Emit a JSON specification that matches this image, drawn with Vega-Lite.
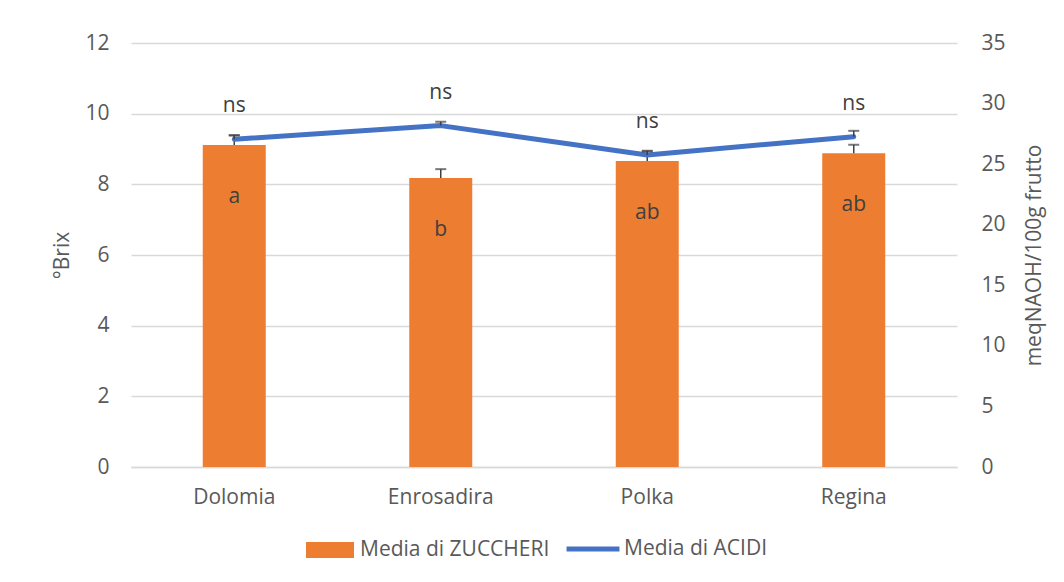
{
  "$schema": "https://vega.github.io/schema/vega-lite/v6.json",
  "width": 826,
  "height": 424,
  "autosize": {"type": "none"},
  "padding": {"left": 131, "top": 43, "right": 107, "bottom": 115},
  "background": "white",
  "config": {
    "font": "Open Sans",
    "view": {"stroke": null},
    "axis": {
      "labelFont": "Open Sans",
      "titleFont": "Open Sans",
      "labelFontSize": 21,
      "titleFontSize": 21,
      "labelColor": "#595959",
      "titleColor": "#595959",
      "titleFontWeight": "normal",
      "ticks": false,
      "domain": false
    },
    "legend": {
      "labelFont": "Open Sans",
      "labelFontSize": 21,
      "labelColor": "#595959",
      "labelLimit": 400
    }
  },
  "data": {
    "values": [
      {"varieta": "Dolomia", "zuccheri": 9.11, "zuccheri_hi": 9.38, "acidi": 27.06, "acidi_hi": 27.4, "lettera": "a", "sig": "ns"},
      {"varieta": "Enrosadira", "zuccheri": 8.18, "zuccheri_hi": 8.43, "acidi": 28.18, "acidi_hi": 28.5, "lettera": "b", "sig": "ns"},
      {"varieta": "Polka", "zuccheri": 8.66, "zuccheri_hi": 8.95, "acidi": 25.76, "acidi_hi": 26.05, "lettera": "ab", "sig": "ns"},
      {"varieta": "Regina", "zuccheri": 8.88, "zuccheri_hi": 9.12, "acidi": 27.27, "acidi_hi": 27.75, "lettera": "ab", "sig": "ns"}
    ]
  },
  "encoding": {
    "x": {
      "field": "varieta",
      "type": "nominal",
      "sort": null,
      "scale": {"paddingInner": 0, "paddingOuter": 0},
      "axis": {
        "title": null,
        "labelAngle": 0,
        "labelPadding": 19,
        "domain": true,
        "domainColor": "#d9d9d9",
        "domainWidth": 1.5
      }
    }
  },
  "layer": [
    {
      "layer": [
        {
          "mark": {"type": "bar", "size": 63},
          "encoding": {
            "y": {
              "field": "zuccheri",
              "type": "quantitative",
              "scale": {"domain": [0, 12], "nice": false},
              "axis": {
                "title": "°Brix",
                "values": [0, 2, 4, 6, 8, 10, 12],
                "grid": true,
                "gridColor": "#d9d9d9",
                "gridWidth": 1.5,
                "labelPadding": 22,
                "titlePadding": 12
              }
            },
            "fill": {
              "datum": "Media di ZUCCHERI",
              "type": "nominal",
              "scale": {"range": ["#ED7D31"]},
              "legend": {
                "title": null,
                "orient": "none",
                "legendX": 183,
                "legendY": 491,
                "symbolType": "M-1.5,-0.5H1.5V0.5H-1.5Z",
                "symbolSize": 1024,
                "symbolStrokeWidth": 0,
                "labelOffset": 14
              }
            }
          }
        },
        {
          "mark": {"type": "rule", "color": "#404040", "strokeWidth": 1.5},
          "encoding": {
            "y": {"field": "zuccheri", "type": "quantitative"},
            "y2": {"field": "zuccheri_hi"}
          }
        },
        {
          "mark": {"type": "tick", "color": "#404040", "thickness": 2, "size": 11},
          "encoding": {
            "y": {"field": "zuccheri_hi", "type": "quantitative"}
          }
        },
        {
          "mark": {"type": "text", "fontSize": 21, "color": "#404040", "baseline": "middle", "dy": 52},
          "encoding": {
            "y": {"field": "zuccheri", "type": "quantitative"},
            "text": {"field": "lettera"}
          }
        }
      ]
    },
    {
      "layer": [
        {
          "mark": {"type": "line", "color": "#4472C4", "strokeWidth": 5, "strokeCap": "round", "strokeJoin": "round"},
          "encoding": {
            "y": {
              "field": "acidi",
              "type": "quantitative",
              "scale": {"domain": [0, 35], "nice": false},
              "axis": {
                "title": "meqNAOH/100g frutto",
                "orient": "right",
                "values": [0, 5, 10, 15, 20, 25, 30, 35],
                "grid": false,
                "labelPadding": 24,
                "titlePadding": 39,
                "titleAngle": 270
              }
            },
            "stroke": {
              "datum": "Media di ACIDI",
              "type": "nominal",
              "scale": {"range": ["#4472C4"]},
              "legend": {
                "title": null,
                "orient": "none",
                "legendX": 433,
                "legendY": 477,
                "symbolType": "stroke",
                "symbolSize": 2800,
                "symbolStrokeWidth": 5,
                "labelOffset": 2
              }
            }
          }
        },
        {
          "mark": {"type": "rule", "color": "#404040", "strokeWidth": 1.5},
          "encoding": {
            "y": {"field": "acidi", "type": "quantitative"},
            "y2": {"field": "acidi_hi"}
          }
        },
        {
          "mark": {"type": "tick", "color": "#404040", "thickness": 2, "size": 11},
          "encoding": {
            "y": {"field": "acidi_hi", "type": "quantitative"}
          }
        },
        {
          "mark": {"type": "text", "fontSize": 21, "color": "#404040", "baseline": "middle", "dy": -33},
          "encoding": {
            "y": {"field": "acidi", "type": "quantitative"},
            "text": {"field": "sig"}
          }
        }
      ],
      "resolve": {"scale": {"y": "shared"}}
    }
  ],
  "resolve": {"scale": {"y": "independent", "fill": "independent", "stroke": "independent"}}
}
